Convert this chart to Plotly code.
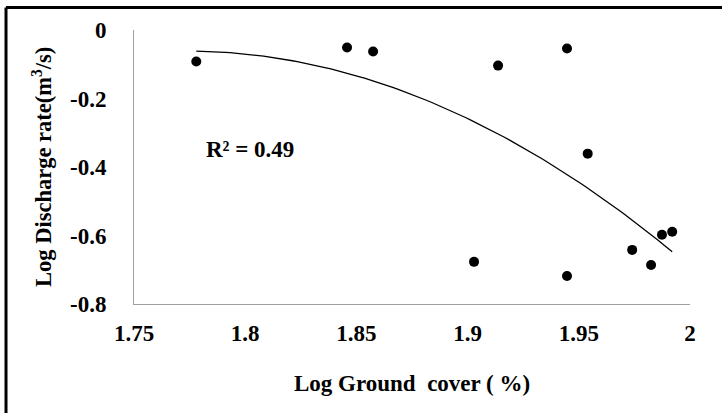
import numpy as np
import plotly.graph_objects as go

# Data
log_ground_cover = [1.778, 1.8458, 1.8575, 1.9137, 1.9447, 1.954, 1.9029, 1.9447, 1.974, 1.9825, 1.9874, 1.992]
log_discharge = [-0.092, -0.051, -0.063, -0.104, -0.054, -0.361, -0.677, -0.718, -0.642, -0.686, -0.598, -0.589]

x_tickvals = [1.75, 1.8, 1.85, 1.9, 1.95, 2.0]
x_ticktext = ["1.75", "1.8", "1.85", "1.9", "1.95", "2"]
y_tickvals = [0, -0.2, -0.4, -0.6, -0.8]
y_ticktext = ["0", "-0.2", "-0.4", "-0.6", "-0.8"]
r2_label = "R² = 0.49"

# Quadratic trendline (Excel-style polynomial order 2)
coef = np.polyfit(log_ground_cover, log_discharge, 2)
xs = np.linspace(min(log_ground_cover), max(log_ground_cover), 100)
ys = np.polyval(coef, xs)

FONT = "Times New Roman, Liberation Serif, DejaVu Serif, serif"
fig = go.Figure()
fig.add_trace(go.Scatter(x=xs, y=ys, mode="lines",
                         line=dict(color="black", width=1.3), hoverinfo="skip"))
fig.add_trace(go.Scatter(x=log_ground_cover, y=log_discharge, mode="markers",
                         marker=dict(color="black", size=10)))

fig.update_layout(
    width=722, height=413,
    margin=dict(l=134, r=32, t=30, b=109),
    paper_bgcolor="white", plot_bgcolor="white",
    showlegend=False,
    font=dict(family=FONT, size=22, color="black"),
    xaxis=dict(range=[1.75, 2.0], tickvals=x_tickvals, ticktext=x_ticktext,
               showgrid=False, zeroline=False, showline=True, linecolor="#a0a0a0",
               linewidth=1, ticks="", ticklabelstandoff=8,
               tickfont=dict(family=FONT, size=23, color="black", weight="bold")),
    yaxis=dict(range=[-0.8, 0], tickvals=y_tickvals, ticktext=y_ticktext,
               showgrid=False, zeroline=False, showline=True, linecolor="#a0a0a0",
               linewidth=1, ticks="", ticklabelstandoff=22,
               tickfont=dict(family=FONT, size=23, color="black", weight="bold")),
)

fig.add_annotation(x=1.8022, y=-0.349, xref="x", yref="y", text=r2_label,
                   showarrow=False, font=dict(family=FONT, size=23, weight="bold"))
fig.add_annotation(x=-0.1655, y=0.5, xref="paper", yref="paper",
                   text="Log Discharge rate(m<sup>3</sup>/s)", textangle=-90,
                   showarrow=False, xanchor="center", yanchor="middle",
                   font=dict(family=FONT, size=22.5, weight="bold"))
fig.add_annotation(x=0.5, y=-0.289, xref="paper", yref="paper",
                   text="Log Ground  cover ( %)",
                   showarrow=False, xanchor="center", yanchor="middle",
                   font=dict(family=FONT, size=23, weight="bold"))

# Outer chart-area border (top and left visible)
fig.add_shape(type="line", xref="paper", yref="paper", x0=-0.2302, x1=1.08,
              y0=1.0823, y1=1.0823, line=dict(color="black", width=3))
fig.add_shape(type="line", xref="paper", yref="paper", x0=-0.2302, x1=-0.2302,
              y0=1.0823, y1=-0.45, line=dict(color="black", width=3))

fig.write_html("out.html", config={"displayModeBar": False},
               post_script="document.body.style.margin='0';document.body.style.overflow='hidden';")
